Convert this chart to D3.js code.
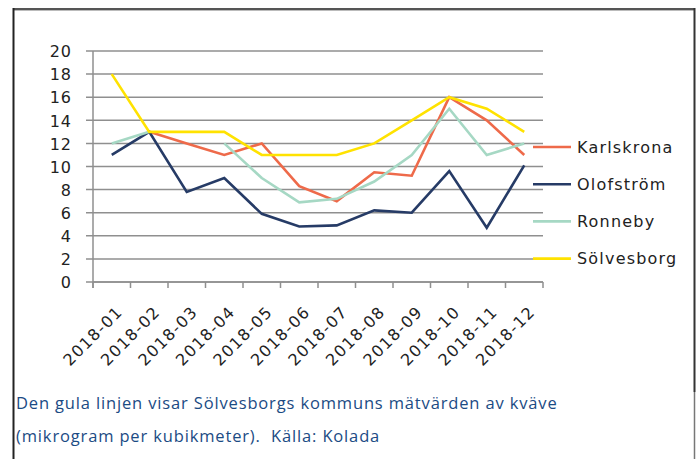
<!DOCTYPE html>
<html><head><meta charset="utf-8">
<script src="https://cdn.jsdelivr.net/npm/d3@7"></script>
<style>
html,body{margin:0;padding:0;background:#fff;}
svg{display:block;}
</style></head>
<body>
<svg id="chart" width="696" height="459"></svg>
<script>
const months = ["2018-01","2018-02","2018-03","2018-04","2018-05","2018-06","2018-07","2018-08","2018-09","2018-10","2018-11","2018-12"];
const karlskrona = [null, 13, 12, 11, 12, 8.3, 7.0, 9.5, 9.2, 16, 14, 11];
const olofstrom  = [11, 13, 7.8, 9.0, 5.9, 4.8, 4.9, 6.2, 6.0, 9.6, 4.7, 10.1];
const ronneby    = [12, 13, null, 12, 9.0, 6.9, 7.2, 8.7, 11, 15, 11, 12];
const solvesborg = [18, 13, 13, 13, 11, 11, 11, 12, 14, 16, 15, 13];
const seriesNames = ["Karlskrona","Olofström","Ronneby","Sölvesborg"];
const seriesColors = ["#EE6A4A","#263B66","#A6D8C4","#FFE200"];
const yTicks = [0,2,4,6,8,10,12,14,16,18,20];
const captionLines = ["Den gula linjen visar Sölvesborgs kommuns mätvärden av kväve","(mikrogram per kubikmeter).  Källa: Kolada"];

const series = [karlskrona, olofstrom, ronneby, solvesborg];
const svg = d3.select("#chart");

// frame
svg.append("line").attr("x1",13).attr("x2",695).attr("y1",9).attr("y2",9).attr("stroke","#555").attr("stroke-width",2);
svg.append("line").attr("x1",13).attr("x2",695).attr("y1",10.5).attr("y2",10.5).attr("stroke","#bbb").attr("stroke-width",1);
svg.append("line").attr("x1",13.5).attr("x2",13.5).attr("y1",8).attr("y2",459).attr("stroke","#222").attr("stroke-width",2);
svg.append("line").attr("x1",694.5).attr("x2",694.5).attr("y1",8).attr("y2",392).attr("stroke","#333").attr("stroke-width",2);
svg.append("line").attr("x1",694.5).attr("x2",694.5).attr("y1",392).attr("y2",459).attr("stroke","#777").attr("stroke-width",1.5);

const x0 = 93, x1 = 543, yTop = 51, yBot = 282;
const x = d3.scaleBand().domain(months).range([x0, x1]).padding(0);
const y = d3.scaleLinear().domain([0,20]).range([yBot, yTop]);

// gridlines
svg.append("g").selectAll("line").data(yTicks).join("line")
  .attr("x1", 86).attr("x2", x1).attr("y1", d=>y(d)).attr("y2", d=>y(d))
  .attr("stroke","#8f8f8f").attr("stroke-width",1.5);

// y axis
const yAxis = d3.axisLeft(y).tickValues(yTicks).tickSize(0).tickPadding(0);
const gy = svg.append("g").attr("transform",`translate(${x0},0)`).call(yAxis);
gy.select(".domain").remove();
gy.selectAll("text").attr("x",-21).attr("dy","0.36em")
  .style("font-family","DejaVu Sans").style("font-size","16px").style("letter-spacing","1px").attr("fill","#222");
svg.append("line").attr("x1",x0).attr("x2",x0).attr("y1",yTop).attr("y2",yBot+6).attr("stroke","#8f8f8f").attr("stroke-width",1.5);

// x axis
const gx = svg.append("g").attr("transform",`translate(0,${yBot})`);
gx.append("line").attr("x1",x0).attr("x2",x1).attr("y1",0).attr("y2",0).attr("stroke","#8f8f8f").attr("stroke-width",1.5);
gx.selectAll("line.tk").data(months.concat(["end"])).join("line").attr("class","tk")
  .attr("x1",(d,i)=> i<months.length ? x(d) : x1).attr("x2",(d,i)=> i<months.length ? x(d) : x1)
  .attr("y1",0).attr("y2",6).attr("stroke","#8f8f8f").attr("stroke-width",1.5);
gx.selectAll("text").data(months).join("text")
  .attr("transform", d=>`translate(${x(d)+x.bandwidth()/2+4},${23}) rotate(-45)`)
  .attr("text-anchor","end").attr("dy","0.7em")
  .style("font-family","DejaVu Sans").style("font-size","16px").style("letter-spacing","1.3px").attr("fill","#222")
  .text(d=>d);

// lines
const line = d3.line().defined(d=>d.v!=null).x(d=>x(d.m)+x.bandwidth()/2).y(d=>y(d.v));
series.forEach((s,i)=>{
  svg.append("path").datum(months.map((m,j)=>({m:m,v:s[j]})))
    .attr("d", line).attr("fill","none").attr("stroke",seriesColors[i]).attr("stroke-width",2.6)
    .attr("stroke-linejoin","miter");
});

// legend
const leg = svg.append("g");
seriesNames.forEach((n,i)=>{
  const ly = 147 + i*37.2;
  leg.append("line").attr("x1",533).attr("x2",571).attr("y1",ly).attr("y2",ly).attr("stroke",seriesColors[i]).attr("stroke-width",2.6);
  leg.append("text").attr("x",577).attr("y",ly).attr("dy","0.36em")
    .style("font-family","DejaVu Sans").style("font-size","16px").style("letter-spacing","1.2px").attr("fill","#222").text(n);
});

// caption
svg.append("g").selectAll("text").data(captionLines).join("text")
  .attr("x",16).attr("y",(d,i)=>409+i*33)
  .style("font-family","'Open Sans'").style("font-size","16.5px").style("letter-spacing","0.85px").attr("fill","#1B4B84")
  .style("white-space","pre").text(d=>d);
</script>
</body></html>
